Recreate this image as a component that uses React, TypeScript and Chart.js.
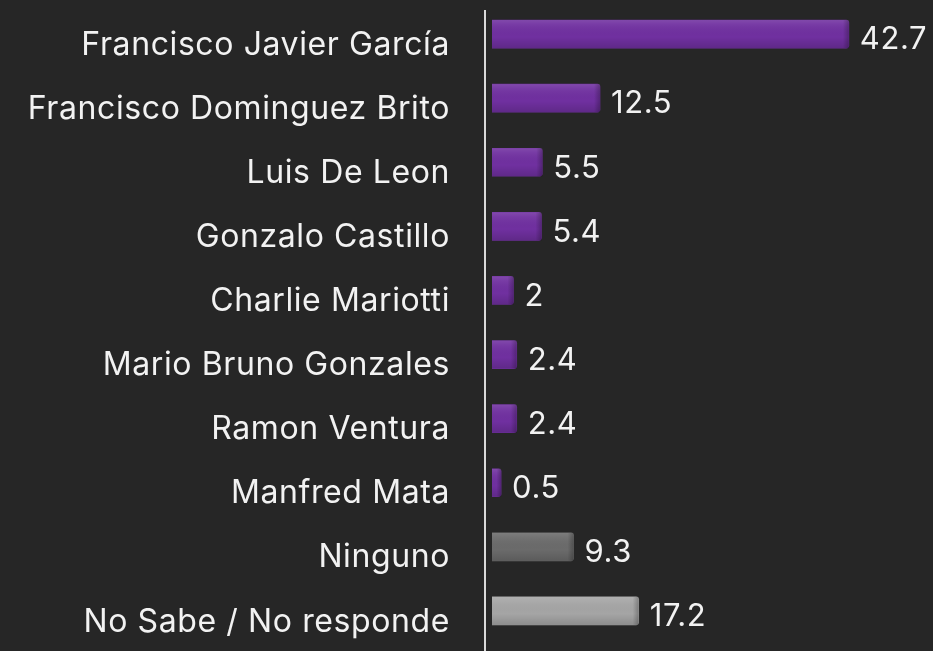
import React, { useEffect, useRef } from "react";
import { Chart, registerables } from "chart.js";

Chart.register(...registerables);

const categories = [
  "Francisco Javier García",
  "Francisco Dominguez Brito",
  "Luis De Leon",
  "Gonzalo Castillo",
  "Charlie Mariotti",
  "Mario Bruno Gonzales",
  "Ramon Ventura",
  "Manfred Mata",
  "Ninguno",
  "No Sabe / No responde",
];
const values = [42.7, 12.5, 5.5, 5.4, 2, 2.4, 2.4, 0.5, 9.3, 17.2];
const valueLabels = ["42.7", "12.5", "5.5", "5.4", "2", "2.4", "2.4", "0.5", "9.3", "17.2"];
const barColors = [
  "#7030a0", "#7030a0", "#7030a0", "#7030a0", "#7030a0",
  "#7030a0", "#7030a0", "#7030a0", "#6b6b6b", "#a5a5a5",
];

const FONT = "Inter, 'Open Sans', sans-serif";
const FONT_SIZE = 32;

const bevelPlugin = {
  id: "bevel",
  beforeDraw(chart: any) {
    try {
      chart.ctx.letterSpacing = "0.6px";
    } catch (e) {}
  },
  afterDatasetsDraw(chart: any) {
    const ctx = chart.ctx;
    const meta = chart.getDatasetMeta(0);
    meta.data.forEach((bar: any) => {
      const { x, y, base, height } = bar.getProps(["x", "y", "base", "height"], true);
      const top = y - height / 2;
      const w = x - base;
      ctx.save();
      const g = ctx.createLinearGradient(0, top, 0, top + height);
      g.addColorStop(0, "rgba(255,255,255,0.12)");
      g.addColorStop(0.15, "rgba(255,255,255,0.06)");
      g.addColorStop(0.6, "rgba(0,0,0,0)");
      g.addColorStop(1, "rgba(0,0,0,0.15)");
      ctx.fillStyle = g;
      ctx.fillRect(base, top, w, height);
      const cap = Math.min(6, w * 0.5);
      const g2 = ctx.createLinearGradient(x - cap, 0, x, 0);
      g2.addColorStop(0, "rgba(0,0,0,0)");
      g2.addColorStop(1, "rgba(0,0,0,0.25)");
      ctx.fillStyle = g2;
      ctx.fillRect(x - cap, top, cap, height);
      ctx.restore();
    });
  },
  afterDraw(chart: any) {
    const ctx = chart.ctx;
    const meta = chart.getDatasetMeta(0);
    ctx.save();
    ctx.fillStyle = "#f2f2f2";
    ctx.font = `31px ${FONT}`;
    ctx.textBaseline = "middle";
    ctx.textAlign = "left";
    meta.data.forEach((bar: any, i: number) => {
      ctx.fillText(valueLabels[i], bar.x + 11, bar.y + 6);
    });
    // vertical axis line
    const lx = chart.chartArea.left - 7;
    ctx.strokeStyle = "#d9d9d9";
    ctx.lineWidth = 2;
    ctx.beginPath();
    ctx.moveTo(lx, 10);
    ctx.lineTo(lx, chart.height);
    ctx.stroke();
    ctx.restore();
  },
};

export default function App() {
  const ref = useRef<HTMLCanvasElement>(null);
  useEffect(() => {
    document.body.style.margin = "0";
    document.body.style.background = "#262626";
    const chart = new Chart(ref.current!, {
      type: "bar",
      data: {
        labels: categories,
        datasets: [
          {
            data: values,
            backgroundColor: barColors,
            borderWidth: 0,
            borderRadius: 3,
            borderSkipped: "left",
            barThickness: 28,
            base: -0.6,
          },
        ],
      },
      options: {
        indexAxis: "y",
        animation: false,
        responsive: false,
        maintainAspectRatio: false,
        layout: { padding: { top: 2, bottom: 8, right: 24, left: 0 } },
        plugins: { legend: { display: false }, tooltip: { enabled: false } },
        scales: {
          x: { display: false, min: -0.6, max: 50 },
          y: {
            grid: { display: false, drawTicks: false },
            border: { display: false },
            afterFit: (scale: any) => {
              scale.width = 492;
              scale.paddingTop = 0;
              scale.paddingBottom = 0;
            },
            ticks: {
              color: "#f2f2f2",
              padding: 42,
              labelOffset: 11,
              font: { family: FONT, size: FONT_SIZE },
            },
          },
        },
      },
      plugins: [bevelPlugin],
    });
    return () => chart.destroy();
  }, []);
  return (
    <div style={{ width: 933, height: 651, background: "#262626" }}>
      <canvas ref={ref} width={933} height={651} style={{ display: "block" }} />
    </div>
  );
}
